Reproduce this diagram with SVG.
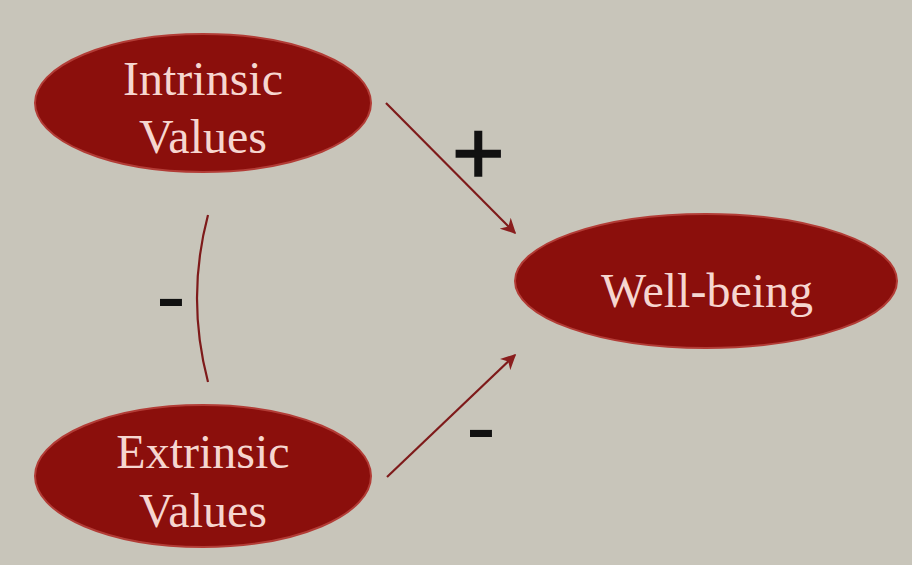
<svg xmlns="http://www.w3.org/2000/svg" width="912" height="565" viewBox="0 0 912 565">
<style>
.node ellipse{fill:#8b0f0c;stroke:#b23c36;stroke-width:2}
.node text{font-family:"Liberation Serif","Times New Roman",serif;font-size:48px;fill:#f6d6d0;text-anchor:middle}
.conn{stroke:#7e1a1a;stroke-width:2.2;fill:none}
.sign{font-family:"Liberation Sans",Arial,sans-serif;font-size:90px;fill:#111}
</style>
<defs>
<marker id="ah" viewBox="0 0 10 10" refX="9" refY="5" markerWidth="7" markerHeight="7" markerUnits="strokeWidth" orient="auto">
<path d="M0,0 L10,5 L0,10 L3,5 Z" fill="#8a1e1e"/>
</marker>
</defs>
<rect width="912" height="565" fill="#c8c5ba"/>
<g id="connectors">
<line class="conn" x1="386" y1="103" x2="515" y2="233" marker-end="url(#ah)"/>
<line class="conn" x1="387" y1="477" x2="515" y2="355" marker-end="url(#ah)"/>
<path class="conn" d="M208,215 Q186,298 208,382" stroke-width="3"/>
<text class="sign" x="452" y="184" font-size="88" stroke="#111" stroke-width="1.6">+</text>
<text class="sign" x="156" y="327">-</text>
<text class="sign" x="466" y="458">-</text>
</g>
<g id="intrinsic" class="node">
<ellipse cx="203" cy="103" rx="168" ry="69"/>
<text x="203" y="95">Intrinsic</text>
<text x="203" y="153">Values</text>
</g>
<g id="extrinsic" class="node">
<ellipse cx="203" cy="476" rx="168" ry="71"/>
<text x="203" y="468">Extrinsic</text>
<text x="203" y="527">Values</text>
</g>
<g id="wellbeing" class="node">
<ellipse cx="706" cy="281" rx="191" ry="67"/>
<text x="707" y="307">Well-being</text>
</g>
</svg>
